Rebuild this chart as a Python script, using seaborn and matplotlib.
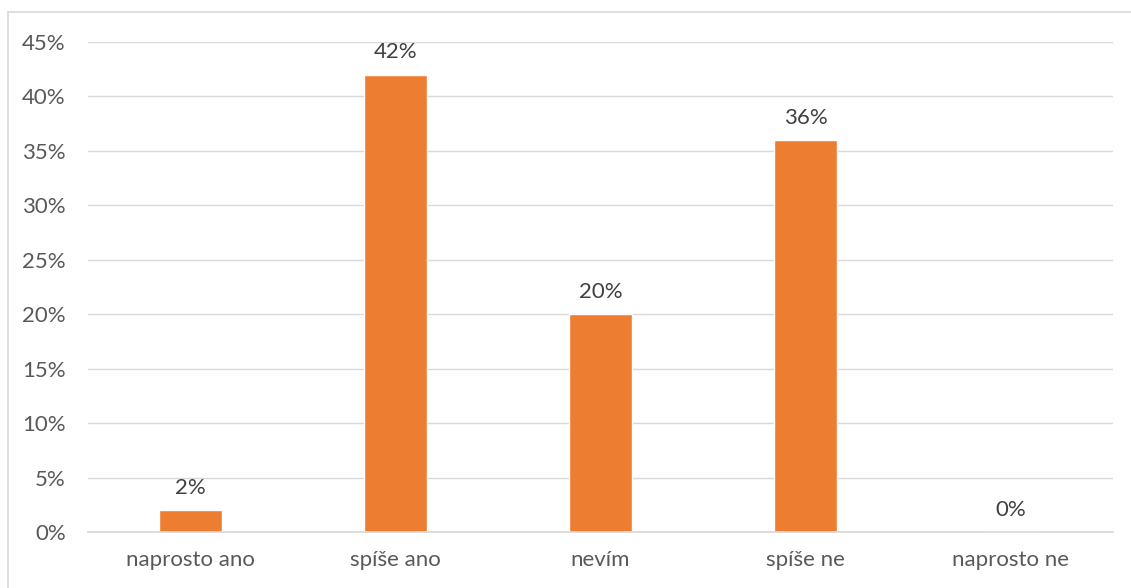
import matplotlib
matplotlib.use("Agg")
import matplotlib.pyplot as plt
from matplotlib.lines import Line2D
import seaborn as sns
import pandas as pd

categories = ["naprosto ano", "spíše ano", "nevím", "spíše ne", "naprosto ne"]
values = [0.02, 0.42, 0.20, 0.36, 0.00]
labels = ["2%", "42%", "20%", "36%", "0%"]
yticks = [0, 0.05, 0.10, 0.15, 0.20, 0.25, 0.30, 0.35, 0.40, 0.45]

sns.set_theme(style="white")
plt.rcParams['font.family'] = ['Lato', 'DejaVu Sans']

W, H = 1131, 588
fig = plt.figure(figsize=(W/100, H/100), dpi=100)
ax = fig.add_axes([88/W, 1-532/H, (1113-88)/W, (532-42)/H])

df = pd.DataFrame({"cat": categories, "val": values})
sns.barplot(data=df, x="cat", y="val", color="#ED7D31", width=0.31, ax=ax, saturation=1)

ax.set_ylim(0, 0.45)
ax.set_xlim(-0.5, 4.5)
ax.set_yticks(yticks)
ax.set_yticklabels([f"{int(round(t*100))}%" for t in yticks])
ax.grid(axis="y", color="#D9D9D9", linewidth=1)
ax.set_axisbelow(True)
for s in ["top", "right", "left"]:
    ax.spines[s].set_visible(False)
ax.spines["bottom"].set_color("#D9D9D9")
ax.tick_params(axis="both", length=0, labelsize=16, colors="#595959")
ax.tick_params(axis="x", pad=13)
ax.tick_params(axis="y", pad=16)
ax.set_xlabel("")
ax.set_ylabel("")

for i, (v, l) in enumerate(zip(values, labels)):
    ax.annotate(l, (i, v), xytext=(0, 9), textcoords="offset points",
                ha="center", va="bottom", fontsize=16, color="#404040")

# partial chart border (left and top edges visible)
fig.add_artist(Line2D([7.5/W, 7.5/W], [0, 1-11.5/H], transform=fig.transFigure,
                      color="#D9D9D9", linewidth=1.2))
fig.add_artist(Line2D([7.5/W, 1], [1-11.5/H, 1-11.5/H], transform=fig.transFigure,
                      color="#D9D9D9", linewidth=1.2))
fig.savefig("out.png", dpi=100)
